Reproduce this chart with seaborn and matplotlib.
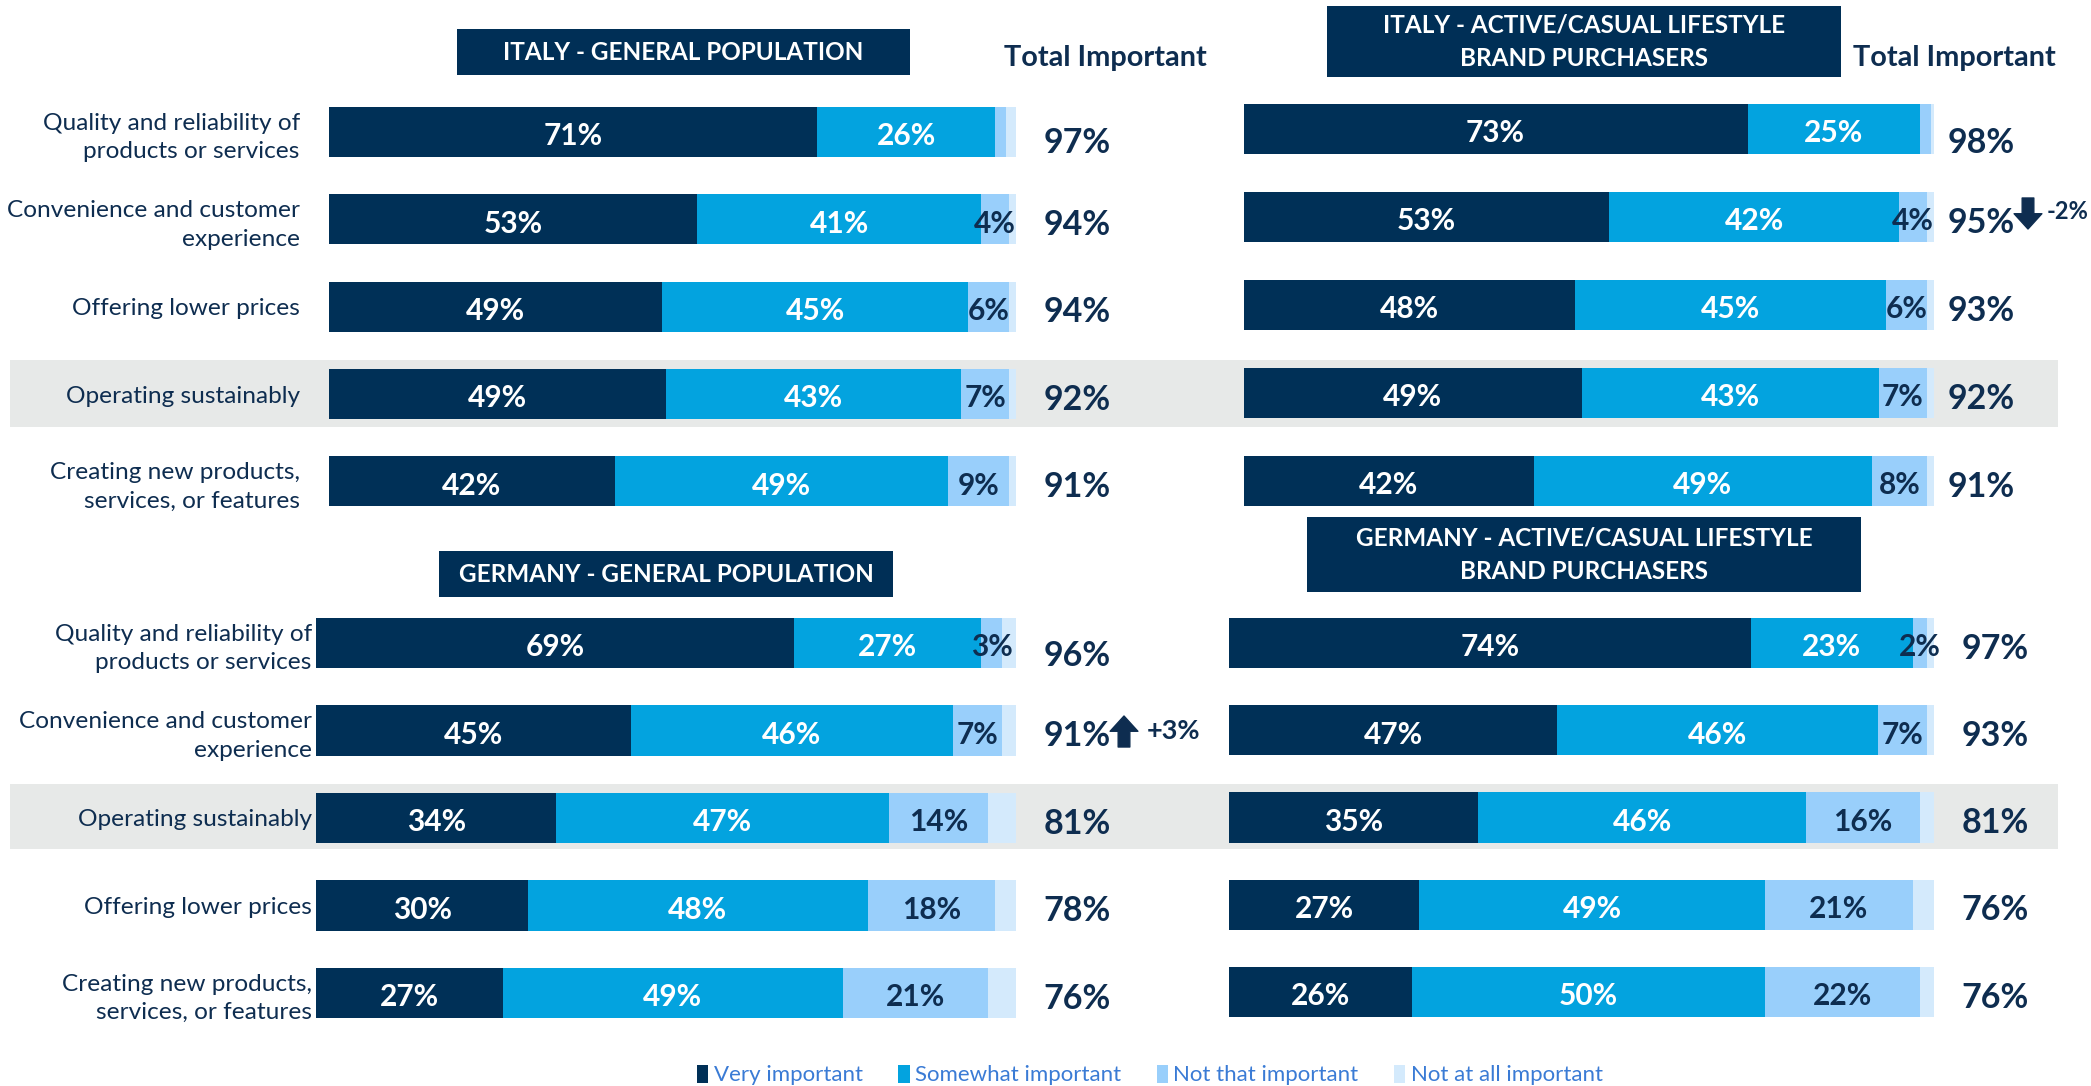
import numpy as np
import pandas as pd
import matplotlib
matplotlib.use("Agg")
import matplotlib.pyplot as plt
import matplotlib.transforms as mtransforms
from matplotlib.patches import Rectangle, Patch
import seaborn as sns

W, H = 2091, 1086

levels = ["Very important", "Somewhat important", "Not that important", "Not at all important"]
level_colors = ["#003057", "#03A3DF", "#99CFFB", "#D4EAFC"]
navy = "#0E2D50"

# Italy - general population
it_gen_items = ["Quality and reliability of\nproducts or services", "Convenience and customer\nexperience",
                "Offering lower prices", "Operating sustainably", "Creating new products,\nservices, or features"]
it_gen_very = [71, 53, 49, 49, 42]
it_gen_some = [26, 41, 45, 43, 49]
it_gen_not = [1.5, 4, 6, 7, 9]
it_gen_none = [1.5, 1, 1, 1, 1]
it_gen_total = ["97%", "94%", "94%", "92%", "91%"]

# Italy - active/casual lifestyle brand purchasers
it_act_items = it_gen_items
it_act_very = [73, 53, 48, 49, 42]
it_act_some = [25, 42, 45, 43, 49]
it_act_not = [1.5, 4, 6, 7, 8]
it_act_none = [0.5, 1, 1, 1, 1]
it_act_total = ["98%", "95%", "93%", "92%", "91%"]

# Germany - general population
de_gen_items = ["Quality and reliability of\nproducts or services", "Convenience and customer\nexperience",
                "Operating sustainably", "Offering lower prices", "Creating new products,\nservices, or features"]
de_gen_very = [69, 45, 34, 30, 27]
de_gen_some = [27, 46, 47, 48, 49]
de_gen_not = [3, 7, 14, 18, 21]
de_gen_none = [2, 2, 4, 3, 4]
de_gen_total = ["96%", "91%", "81%", "78%", "76%"]

# Germany - active/casual lifestyle brand purchasers
de_act_items = de_gen_items
de_act_very = [74, 47, 35, 27, 26]
de_act_some = [23, 46, 46, 49, 50]
de_act_not = [2, 7, 16, 21, 22]
de_act_none = [1, 1, 2, 3, 2]
de_act_total = ["97%", "93%", "81%", "76%", "76%"]

sns.set_style("white")
plt.rcParams['font.family'] = ['Lato', 'DejaVu Sans']

fig = plt.figure(figsize=(W / 100, H / 100), dpi=100)


def fx(x):
    return x / W


def fy(y):
    return 1 - y / H


def draw_panel(box, items, very, some, notthat, none, totals, title, title_box,
               show_items, total_x, total_off, label_pad):
    left, right, top, bottom = box
    ax = fig.add_axes([fx(left), fy(bottom), (right - left) / W, (bottom - top) / H])
    ax.set_facecolor("none")
    vals = np.array([very, some, notthat, none], dtype=float).T
    shares = vals / vals.sum(axis=1, keepdims=True) * 100
    cum = np.cumsum(shares, axis=1)
    df = pd.DataFrame(cum, columns=levels)
    df["item"] = items
    for k in reversed(range(4)):
        sns.barplot(data=df, x=levels[k], y="item", orient="h", color=level_colors[k],
                    saturation=1, width=0.575, edgecolor="none", ax=ax)
    for i in range(len(items)):
        start = 0
        for k in range(3):
            v = vals[i, k]
            w = shares[i, k]
            if v >= 2:
                c = "white" if k < 2 else navy
                ax.text(start + w / 2, i + 0.02, f"{v:.0f}%", ha="center", va="center_baseline",
                        color=c, fontsize=21.5, fontweight="bold")
            start += w
    trans = mtransforms.blended_transform_factory(ax.transAxes, ax.transData)
    for i, t in enumerate(totals):
        ax.text(total_x, i + 0.03 + total_off[i], t, transform=trans, ha="center", va="center_baseline",
                color=navy, fontsize=24.5, fontweight="bold")
    ax.set_xlim(0, 100)
    ax.set_ylim(4.5, -0.5)
    ax.set_xlabel("")
    ax.set_ylabel("")
    ax.set_xticks([])
    sns.despine(ax=ax, left=True, bottom=True)
    ax.tick_params(axis="y", length=0, pad=label_pad)
    if show_items:
        for t in ax.get_yticklabels():
            t.set_fontsize(17.6)
            t.set_color(navy)
            t.set_linespacing(1.42)
    else:
        ax.set_yticklabels([])
    bx0, bx1, by0, by1 = title_box
    fig.add_artist(Rectangle((fx(bx0), fy(by1)), (bx1 - bx0) / W, (by1 - by0) / H,
                             transform=fig.transFigure, facecolor="#002F56", edgecolor="none", zorder=2))
    fig.text(fx((bx0 + bx1) / 2), fy((by0 + by1) / 2), title, ha="center", va="center",
             color="white", fontsize=17.5, fontweight="bold", linespacing=1.55, zorder=3)
    return ax


# highlighted rows (operating sustainably)
for y0, y1 in [(360, 427), (784, 849)]:
    fig.add_artist(Rectangle((fx(10), fy(y1)), (2058 - 10) / W, (y1 - y0) / H,
                             transform=fig.transFigure, facecolor="#E7E9E8", edgecolor="none", zorder=-1))

draw_panel((329, 1016, 88.4, 525), it_gen_items, it_gen_very, it_gen_some, it_gen_not, it_gen_none,
           it_gen_total, "ITALY - GENERAL POPULATION", (457, 910, 29, 75),
           True, 1.089, [0.06, 0, 0, 0, 0], 21)
draw_panel((1243.5, 1934, 85, 525), it_act_items, it_act_very, it_act_some, it_act_not, it_act_none,
           it_act_total, "ITALY - ACTIVE/CASUAL LIFESTYLE\nBRAND PURCHASERS", (1327, 1841, 6, 77),
           False, 1.068, [0.09, 0, 0, 0, 0], 0)
draw_panel((316, 1016, 599.25, 1036.75), de_gen_items, de_gen_very, de_gen_some, de_gen_not, de_gen_none,
           de_gen_total, "GERMANY - GENERAL POPULATION", (439, 893, 551, 597),
           True, 1.087, [0.09, 0, 0, 0, 0], 3)
draw_panel((1229, 1934, 599.4, 1035.6), de_act_items, de_act_very, de_act_some, de_act_not, de_act_none,
           de_act_total, "GERMANY - ACTIVE/CASUAL LIFESTYLE\nBRAND PURCHASERS", (1307, 1861, 517, 592),
           False, 1.087, [0, 0, 0, 0, 0], 0)

# column headers
for x in [1105, 1954]:
    fig.text(fx(x), fy(58), "Total Important", ha="center", va="center",
             color=navy, fontsize=20.8, fontweight="bold")

# change markers
arrow_style = "simple,head_width=1.0,head_length=0.55,tail_width=0.42"
fig.axes[0].annotate("", xy=(2028, H - 229), xytext=(2028, H - 198), xycoords="figure pixels",
                     textcoords="figure pixels",
                     arrowprops=dict(arrowstyle=arrow_style, color=navy, mutation_scale=20,
                                     shrinkA=0, shrinkB=0))
fig.text(fx(2047), fy(212), "-2%", ha="left", va="center", color=navy, fontsize=17, fontweight="bold")
fig.axes[0].annotate("", xy=(1124, H - 716), xytext=(1124, H - 747), xycoords="figure pixels",
                     textcoords="figure pixels",
                     arrowprops=dict(arrowstyle=arrow_style, color=navy, mutation_scale=20,
                                     shrinkA=0, shrinkB=0))
fig.text(fx(1147), fy(731), "+3%", ha="left", va="center", color=navy, fontsize=19.5, fontweight="bold")

handles = [Patch(facecolor=c, edgecolor="none") for c in level_colors]
fig.legend(handles, levels, loc="center", bbox_to_anchor=(fx(1150), fy(1075)), ncol=4, frameon=False,
           handlelength=0.5, handleheight=0.9, handletextpad=0.25, columnspacing=1.6,
           labelcolor="#3A7BD5", fontsize=16)

fig.savefig("out.png", dpi=100)
